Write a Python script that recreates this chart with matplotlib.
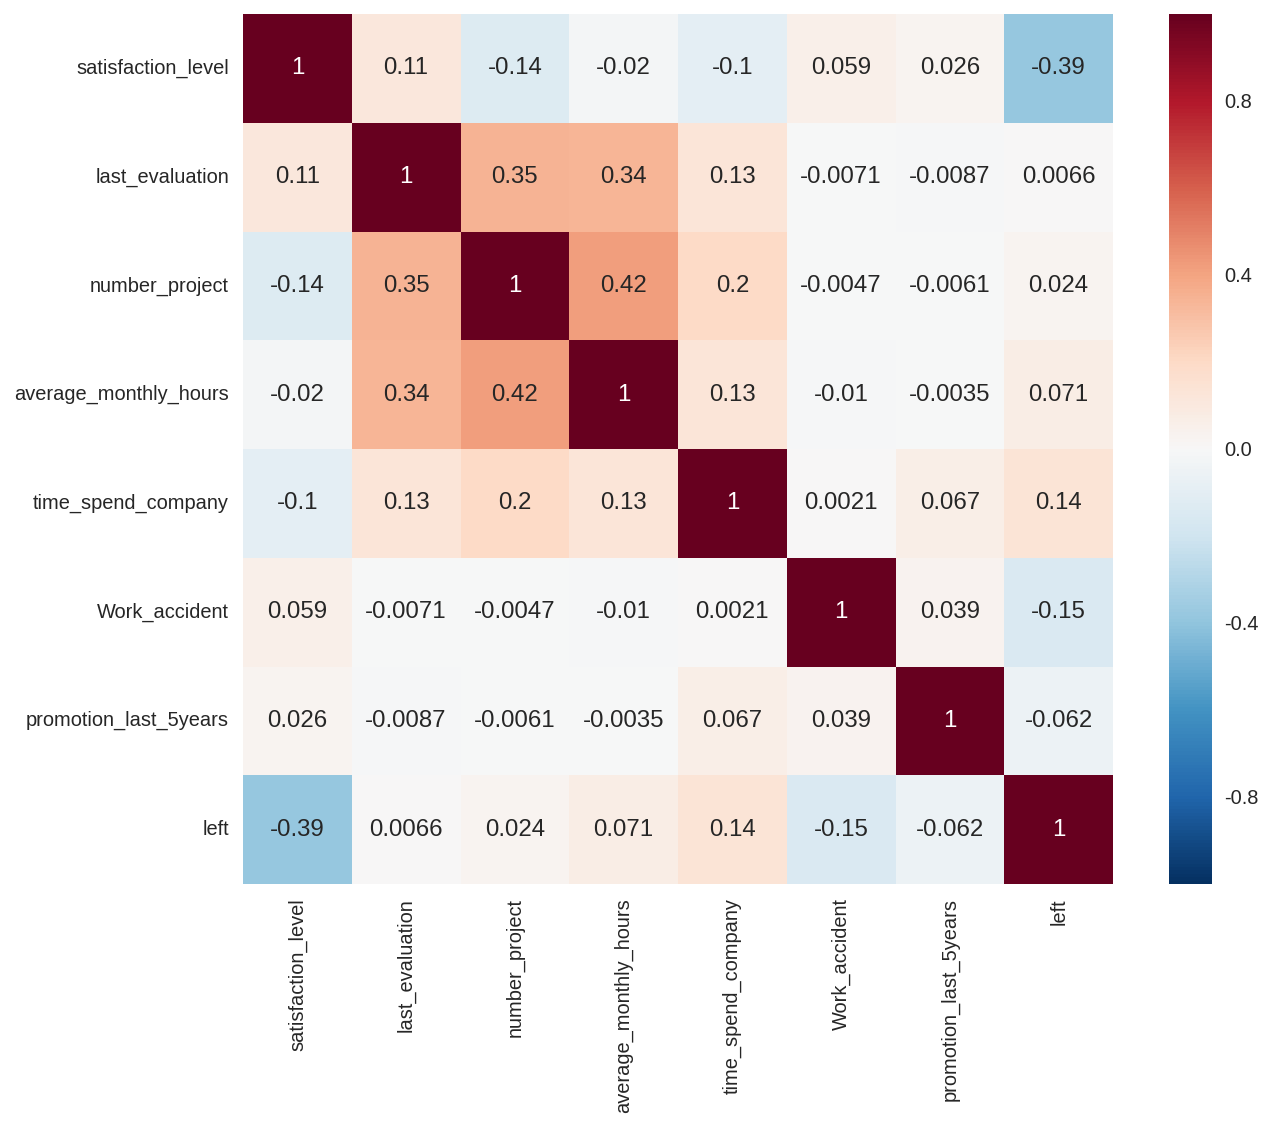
import numpy as np
import matplotlib
matplotlib.use("Agg")
import matplotlib.pyplot as plt
import seaborn as sns

# correlation matrix
labels = [
    "satisfaction_level",
    "last_evaluation",
    "number_project",
    "average_monthly_hours",
    "time_spend_company",
    "Work_accident",
    "promotion_last_5years",
    "left",
]
satisfaction_level = [1, 0.11, -0.14, -0.02, -0.1, 0.059, 0.026, -0.39]
last_evaluation = [0.11, 1, 0.35, 0.34, 0.13, -0.0071, -0.0087, 0.0066]
number_project = [-0.14, 0.35, 1, 0.42, 0.2, -0.0047, -0.0061, 0.024]
average_monthly_hours = [-0.02, 0.34, 0.42, 1, 0.13, -0.01, -0.0035, 0.071]
time_spend_company = [-0.1, 0.13, 0.2, 0.13, 1, 0.0021, 0.067, 0.14]
work_accident = [0.059, -0.0071, -0.0047, -0.01, 0.0021, 1, 0.039, -0.15]
promotion_last_5years = [0.026, -0.0087, -0.0061, -0.0035, 0.067, 0.039, 1, -0.062]
left = [-0.39, 0.0066, 0.024, 0.071, 0.14, -0.15, -0.062, 1]

corr = np.array([
    satisfaction_level,
    last_evaluation,
    number_project,
    average_monthly_hours,
    time_spend_company,
    work_accident,
    promotion_last_5years,
    left,
])

sns.set_style("white")
plt.rcParams["font.family"] = ["Liberation Sans", "DejaVu Sans"]
plt.rcParams["axes.unicode_minus"] = False

fig = plt.figure(figsize=(12.8, 11.27), dpi=100)
ax = fig.add_axes([243 / 1280, 243 / 1127, 870 / 1280, 870 / 1127])
cax = fig.add_axes([1169 / 1280, 243 / 1127, 43 / 1280, 870 / 1127])

sns.heatmap(
    corr,
    ax=ax,
    cbar_ax=cax,
    cmap="RdBu_r",
    vmin=-1,
    vmax=1,
    annot=True,
    fmt=".2g",
    annot_kws={"fontsize": 17.3, "color": "#262626"},
    xticklabels=labels,
    yticklabels=labels,
)

# annotations on the dark diagonal are white
for t in ax.texts:
    if t.get_text() == "1":
        t.set_color("white")

ax.tick_params(axis="both", length=0, labelsize=14.4, labelcolor="#262626", pad=10)
plt.setp(ax.get_xticklabels(), rotation=90)
plt.setp(ax.get_yticklabels(), rotation=0)

cbar = ax.collections[0].colorbar
cbar.set_ticks([-0.8, -0.4, 0.0, 0.4, 0.8])
cbar.set_ticklabels(["-0.8", "-0.4", "0.0", "0.4", "0.8"])
cax.tick_params(length=0, labelsize=14.4, labelcolor="#262626", pad=9)
cbar.outline.set_visible(False)

plt.savefig("out.png", dpi=100)
